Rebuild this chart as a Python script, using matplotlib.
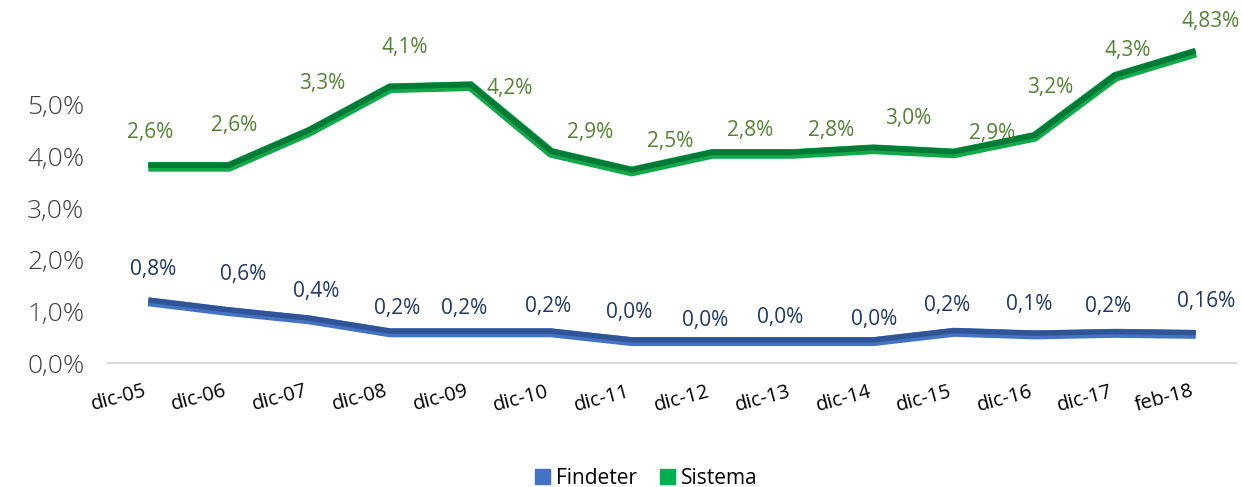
import matplotlib
matplotlib.use("Agg")
import matplotlib.pyplot as plt
import matplotlib.patheffects as pe
from matplotlib.patches import Patch

plt.rcParams["font.family"] = ["Open Sans", "DejaVu Sans"]

# data
categorias = ["dic-05", "dic-06", "dic-07", "dic-08", "dic-09", "dic-10", "dic-11",
              "dic-12", "dic-13", "dic-14", "dic-15", "dic-16", "dic-17", "feb-18"]
sistema = [3.80, 3.80, 4.48, 5.32, 5.36, 4.07, 3.71, 4.05, 4.05, 4.14, 4.06, 4.38, 5.54, 6.01]
findeter = [1.19, 1.00, 0.84, 0.59, 0.59, 0.59, 0.42, 0.42, 0.42, 0.42, 0.60, 0.55, 0.58, 0.56]
etq_sistema = ["2,6%", "2,6%", "3,3%", "4,1%", "4,2%", "2,9%", "2,5%",
               "2,8%", "2,8%", "3,0%", "2,9%", "3,2%", "4,3%", "4,83%"]
etq_findeter = ["0,8%", "0,6%", "0,4%", "0,2%", "0,2%", "0,2%", "0,0%",
                "0,0%", "0,0%", "0,0%", "0,2%", "0,1%", "0,2%", "0,16%"]

# label offsets in pixels (layout only)
off_sistema = [(2, 34), (5, 41), (13, 48), (15, 41), (39, -2), (39, 20), (38, 30),
               (38, 23), (38, 23), (35, 31), (38, 20), (16, 49), (13, 26), (15, 31)]
off_findeter = [(5, 32), (14, 37), (7, 28), (7, 24), (-6, 24), (-3, 26), (-3, 29),
                (-7, 21), (-13, 24), (1, 22), (-7, 27), (-5, 30), (-7, 27), (10, 33)]

fig = plt.figure(figsize=(12.43, 4.87), dpi=100)
ax = fig.add_axes([108 / 1243, 1 - 363.3 / 487, 1128 / 1243, 7 * 51.7 / 487])

x = list(range(len(categorias)))

ax.plot(x, findeter, color="#4472c4", lw=6.5, solid_capstyle="butt", solid_joinstyle="miter",
        path_effects=[pe.Stroke(linewidth=6.5, foreground="#4472c4"),
                      pe.Stroke(linewidth=3.8, foreground="#2f5597", offset=(0, 1.2)),
                      ])
ax.plot(x, sistema, color="#13a84a", lw=7, solid_capstyle="butt", solid_joinstyle="miter",
        path_effects=[pe.Stroke(linewidth=7, foreground="#13a84a"),
                      pe.Stroke(linewidth=4, foreground="#007a37", offset=(0, 1.2)),
                      ])

for i in x:
    ax.annotate(etq_sistema[i], (i, sistema[i]), xytext=off_sistema[i],
                textcoords="offset pixels", ha="center", va="center",
                fontsize=15, color="#548235", annotation_clip=False)
    ax.annotate(etq_findeter[i], (i, findeter[i]), xytext=off_findeter[i],
                textcoords="offset pixels", ha="center", va="center",
                fontsize=15, color="#1f3864", annotation_clip=False)

ax.set_xlim(-0.5, len(categorias) - 0.5)
ax.set_ylim(0, 7)
ax.set_yticks([0, 1, 2, 3, 4, 5])
ax.set_yticklabels(["0,0%", "1,0%", "2,0%", "3,0%", "4,0%", "5,0%"],
                   fontsize=19, color="#404040", fontweight="light")
ax.set_xticks(x)
ax.set_xticklabels(categorias, rotation=15, ha="right", fontsize=14.5, color="#000000")
ax.tick_params(axis="both", length=0)
ax.tick_params(axis="y", pad=17)
ax.tick_params(axis="x", pad=13)

for s in ["top", "right", "left"]:
    ax.spines[s].set_visible(False)
ax.spines["bottom"].set_color("#d9d9d9")
ax.spines["bottom"].set_linewidth(1.5)

handles = [Patch(color="#4472c4", label="Findeter"), Patch(color="#00b050", label="Sistema")]
fig.legend(handles=handles, loc="center", bbox_to_anchor=(0.52, 0.018), ncol=2,
           frameon=False, fontsize=15, handlelength=0.72, handleheight=0.72,
           handletextpad=0.3, columnspacing=1.1)

fig.savefig("out.png", dpi=100)
